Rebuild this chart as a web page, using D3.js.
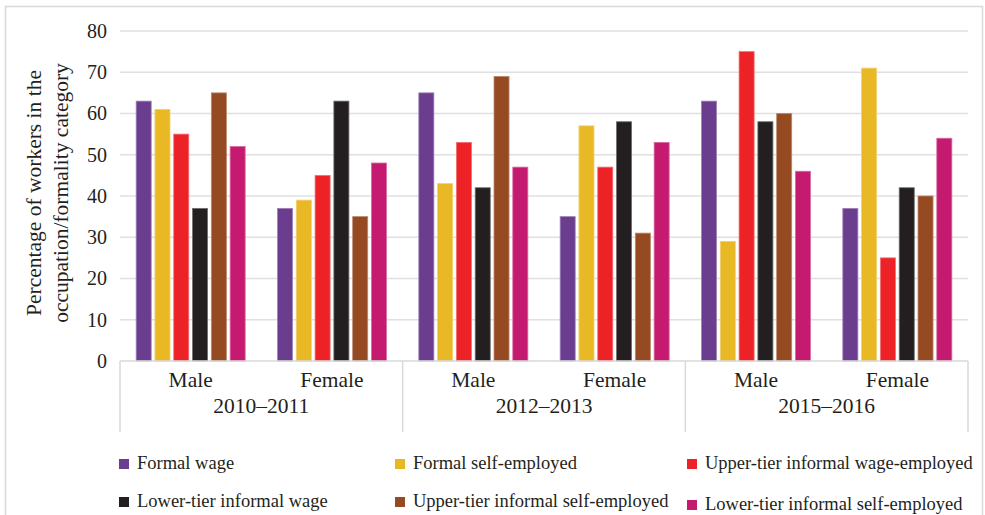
<!DOCTYPE html>
<html><head><meta charset="utf-8">
<script src="https://cdn.jsdelivr.net/npm/d3@7"></script>
<style>body{margin:0;background:#fff}svg{display:block}text{font-family:"Liberation Serif","DejaVu Serif",serif;fill:#231f20}</style>
</head><body>
<svg id="c" width="985" height="515"></svg>
<script>
const periods = ["2010\u20132011", "2012\u20132013", "2015\u20132016"];
const sexes = ["Male", "Female"];
const seriesNames = ["Formal wage", "Formal self-employed", "Upper-tier informal wage-employed",
  "Lower-tier informal wage", "Upper-tier informal self-employed", "Lower-tier informal self-employed"];
const seriesColors = ["#6a3d8f", "#e8b825", "#ec2227", "#231f20", "#954a22", "#c41a70"];
// values per group (period × sex), in series order
const formalWage            = [63, 37, 65, 35, 63, 37];
const formalSelfEmployed    = [61, 39, 43, 57, 29, 71];
const upperInformalWage     = [55, 45, 53, 47, 75, 25];
const lowerInformalWage     = [37, 63, 42, 58, 58, 42];
const upperInformalSelf     = [65, 35, 69, 31, 60, 40];
const lowerInformalSelf     = [52, 48, 47, 53, 46, 54];
const yTicks = [0, 10, 20, 30, 40, 50, 60, 70, 80];

const seriesValues = [formalWage, formalSelfEmployed, upperInformalWage, lowerInformalWage, upperInformalSelf, lowerInformalSelf];
const groups = [];
periods.forEach(p => sexes.forEach(s => groups.push({period: p, sex: s, key: p + "|" + s})));

const svg = d3.select("#c");
// outer frame
svg.append("rect").attr("x", 5.5).attr("y", 6.5).attr("width", 977).attr("height", 540)
  .attr("fill", "none").attr("stroke", "#d9d9d9").attr("stroke-width", 1.5);

const pLeft = 120, pRight = 968, pTop = 31, pBottom = 361;
const y = d3.scaleLinear().domain([0, 80]).range([pBottom, pTop]);
const x0 = d3.scaleBand().domain(groups.map(g => g.key)).range([pLeft, pRight]).paddingInner(0).paddingOuter(0);
const x1 = d3.scaleBand().domain(seriesNames).range([0, x0.bandwidth()]).paddingInner(0.2).paddingOuter(0.86);
const xp = d3.scaleBand().domain(periods).range([pLeft, pRight]);

// gridlines
svg.append("g").selectAll("line").data(yTicks.filter(t => t > 0)).join("line")
  .attr("x1", pLeft).attr("x2", pRight).attr("y1", d => y(d)).attr("y2", d => y(d))
  .attr("stroke", "#e0e0e0").attr("stroke-width", 1.5);

// y axis labels
const yAxis = d3.axisLeft(y).tickValues(yTicks).tickSize(0).tickPadding(13).tickFormat(d3.format("d"));
const ya = svg.append("g").attr("transform", `translate(${pLeft},0)`).call(yAxis);
ya.select(".domain").remove();
ya.selectAll("text").style("font-family", '"Liberation Serif","DejaVu Serif",serif').style("font-size", "20px").attr("fill", "#231f20");

// bars
const bars = [];
groups.forEach((g, gi) => seriesNames.forEach((s, si) => bars.push({g, s, si, v: seriesValues[si][gi]})));
svg.append("g").selectAll("rect").data(bars).join("rect")
  .attr("x", d => x0(d.g.key) + x1(d.s))
  .attr("width", x1.bandwidth())
  .attr("y", d => y(d.v))
  .attr("height", d => y(0) - y(d.v))
  .attr("fill", d => seriesColors[d.si])
  .attr("stroke", d => d3.interpolateRgb(seriesColors[d.si], "#fff")(0.35))
  .attr("stroke-width", 0.8);

// x axis line and separators
svg.append("line").attr("x1", pLeft).attr("x2", pRight).attr("y1", pBottom).attr("y2", pBottom)
  .attr("stroke", "#d9d9d9").attr("stroke-width", 1.5);
const seps = periods.map(p => xp(p)).concat([pRight]);
svg.append("g").selectAll("line").data(seps).join("line")
  .attr("x1", d => d).attr("x2", d => d).attr("y1", pBottom).attr("y2", 432)
  .attr("stroke", "#d9d9d9").attr("stroke-width", 1.5);

// sex labels
svg.append("g").selectAll("text").data(groups).join("text")
  .attr("x", d => x0(d.key) + x0.bandwidth() / 2).attr("y", 387)
  .attr("text-anchor", "middle").style("font-size", "21.5px").text(d => d.sex);
// period labels
svg.append("g").selectAll("text").data(periods).join("text")
  .attr("x", d => xp(d) + xp.bandwidth() / 2).attr("y", 413)
  .attr("text-anchor", "middle").style("font-size", "21.5px").text(d => d);

// y title
const yt = svg.append("text").attr("transform", "translate(41,193) rotate(-90)").attr("text-anchor", "middle").style("font-size", "21.5px");
yt.append("tspan").attr("x", 0).attr("dy", 0).text("Percentage of workers in the");
yt.append("tspan").attr("x", 0).attr("dy", 27).text("occupation/formality category");

// legend
const legX = [119, 395, 687], legY = [459, 497];
const leg = svg.append("g").selectAll("g").data(seriesNames).join("g")
  .attr("transform", (d, i) => `translate(${legX[i % 3]},${legY[Math.floor(i / 3)] + (i === 5 ? 3 : 0)})`);
leg.append("rect").attr("width", 10).attr("height", 10).attr("fill", (d, i) => seriesColors[i]);
leg.append("text").attr("x", 18).attr("y", 9.5).style("font-size", "18.5px").text(d => d);
</script>
</body></html>
